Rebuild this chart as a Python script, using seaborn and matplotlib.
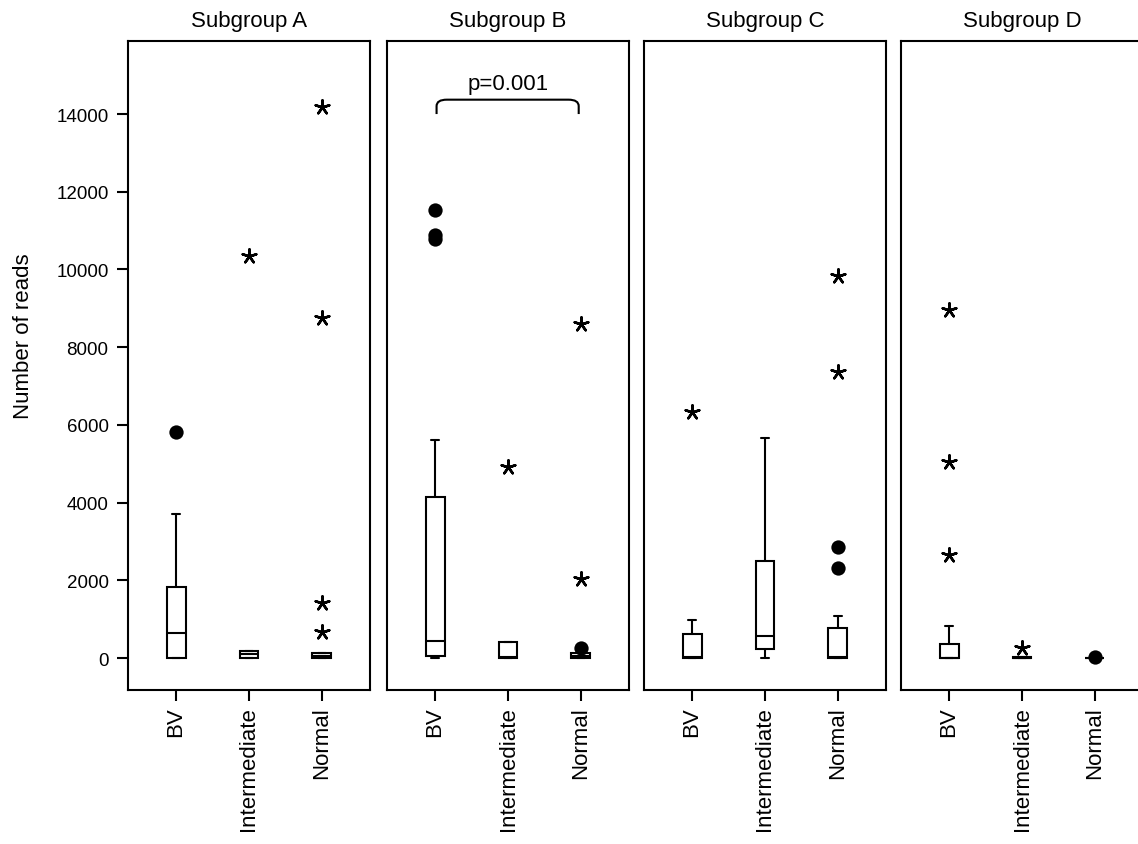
import numpy as np
import pandas as pd
import seaborn as sns
import matplotlib.pyplot as plt
from matplotlib.path import Path
from matplotlib.patches import PathPatch

OUTPUT_FILE = "out.png"

# subgroups (panels) and categories (x axis)
subgroups = ["Subgroup A", "Subgroup B", "Subgroup C", "Subgroup D"]
categories = ["BV", "Intermediate", "Normal"]

# box statistics, one row per subgroup, order BV / Intermediate / Normal
whisker_low = [[0, 0, 0], [0, 10, 0], [0, 0, 0], [0, 0, 0]]
q1 = [[0, 10, 0], [60, 10, 0], [10, 230, 10], [0, 0, 0]]
median = [[643, 95, 40], [430, 20, 40], [20, 560, 30], [0, 0, 0]]
q3 = [[1835, 185, 130], [4150, 410, 140], [630, 2500, 770], [360, 20, 10]]
whisker_high = [[3706, 185, 130], [5620, 410, 140], [990, 5670, 1080], [830, 20, 10]]

# outliers: circles (> 1.5 IQR) and asterisks (> 3 IQR)
circles = [
    [[5810], [], []],
    [[11520, 10900, 10780], [], [250]],
    [[], [], [2860, 2310]],
    [[], [], [15]],
]
stars = [
    [[], [10345], [14180, 8750, 1415, 670]],
    [[], [4915], [8600, 2040]],
    [[6340], [], [9840, 7350]],
    [[8960, 5040, 2660], [257], []],
]

# significance bracket in Subgroup B
p_label = "p=0.001"
p_pair = (0, 2)
p_base = 14000
p_top = 14370

y_ticks = [0, 2000, 4000, 6000, 8000, 10000, 12000, 14000]

# long table of outliers for seaborn
rows = []
for g, name in enumerate(subgroups):
    for c in range(len(categories)):
        for v in circles[g][c]:
            rows.append({"Subgroup": name, "pos": c, "Reads": v, "Type": "mild"})
        for v in stars[g][c]:
            rows.append({"Subgroup": name, "pos": c, "Reads": v, "Type": "extreme"})
df_out = pd.DataFrame(rows)

sns.set_theme(style="ticks")
plt.rcParams["font.family"] = ["Liberation Sans", "DejaVu Sans"]
for key in ["text.color", "axes.labelcolor", "xtick.color", "ytick.color",
            "xtick.labelcolor", "ytick.labelcolor", "axes.edgecolor"]:
    plt.rcParams[key] = "black"

fig = plt.figure(figsize=(11.38, 8.45), dpi=100)
lefts = [128, 387, 644, 901]
axes = []
for i, left in enumerate(lefts):
    ax = fig.add_axes([left / 1138, 154.3 / 845, 242 / 1138, 648.7 / 845])
    axes.append(ax)

lw = 1.5
for g, ax in enumerate(axes):
    stats = []
    for c, cat in enumerate(categories):
        stats.append({
            "label": cat,
            "whislo": whisker_low[g][c],
            "q1": q1[g][c],
            "med": median[g][c],
            "q3": q3[g][c],
            "whishi": whisker_high[g][c],
        })
    ax.bxp(stats, positions=[0, 1, 2], widths=0.26, capwidths=0.11,
           showfliers=False, patch_artist=True,
           boxprops=dict(facecolor="white", edgecolor="black", linewidth=lw),
           medianprops=dict(color="black", linewidth=lw),
           whiskerprops=dict(color="black", linewidth=lw),
           capprops=dict(color="black", linewidth=lw))

    sub = df_out[df_out["Subgroup"] == subgroups[g]]
    mild = sub[sub["Type"] == "mild"]
    extreme = sub[sub["Type"] == "extreme"]
    if len(mild):
        sns.scatterplot(data=mild, x="pos", y="Reads", marker="o", s=106,
                        color="black", edgecolor="black", linewidth=0,
                        legend=False, ax=ax, zorder=5)
    if len(extreme):
        sns.scatterplot(data=extreme, x="pos", y="Reads", marker=(5, 2, 0), s=105,
                        color="black", linewidth=1.8, legend=False, ax=ax, zorder=5)

    ax.set_xlim(-0.66, 2.66)
    ax.set_ylim(-815, 15880)
    ax.set_xticks([0, 1, 2])
    ax.set_xticklabels(categories, rotation=90, fontsize=16)
    ax.set_xlabel("")
    ax.set_ylabel("")
    ax.set_title(subgroups[g], fontsize=16, pad=11)
    for sp in ax.spines.values():
        sp.set_linewidth(lw)
        sp.set_color("black")
    ax.tick_params(axis="x", length=8, width=lw, pad=4, color="black")
    if g == 0:
        ax.set_yticks(y_ticks)
        ax.set_yticklabels([str(t) for t in y_ticks], fontsize=13.5)
        ax.tick_params(axis="y", length=8, width=lw, pad=6, color="black")
        ax.set_ylabel("Number of reads", fontsize=16)
        ax.yaxis.set_label_coords(-0.39, 0.547)
    else:
        ax.set_yticks([])

# bracket with rounded corners for the p value
ax = axes[1]
x0, x1 = p_pair[0] + 0.02, p_pair[1] - 0.03
dy = (p_top - p_base) * 0.45
verts = [(x0, p_base), (x0, p_top - dy), (x0, p_top), (x0 + 0.14, p_top),
         (x1 - 0.14, p_top), (x1, p_top), (x1, p_top - dy), (x1, p_base)]
codes = [Path.MOVETO, Path.LINETO, Path.CURVE3, Path.CURVE3,
         Path.LINETO, Path.CURVE3, Path.CURVE3, Path.LINETO]
ax.add_patch(PathPatch(Path(verts, codes), fill=False, edgecolor="black", linewidth=lw))
ax.text((p_pair[0] + p_pair[1]) / 2, p_top + 150, p_label, ha="center", va="bottom", fontsize=16)

plt.savefig(OUTPUT_FILE, dpi=100)
